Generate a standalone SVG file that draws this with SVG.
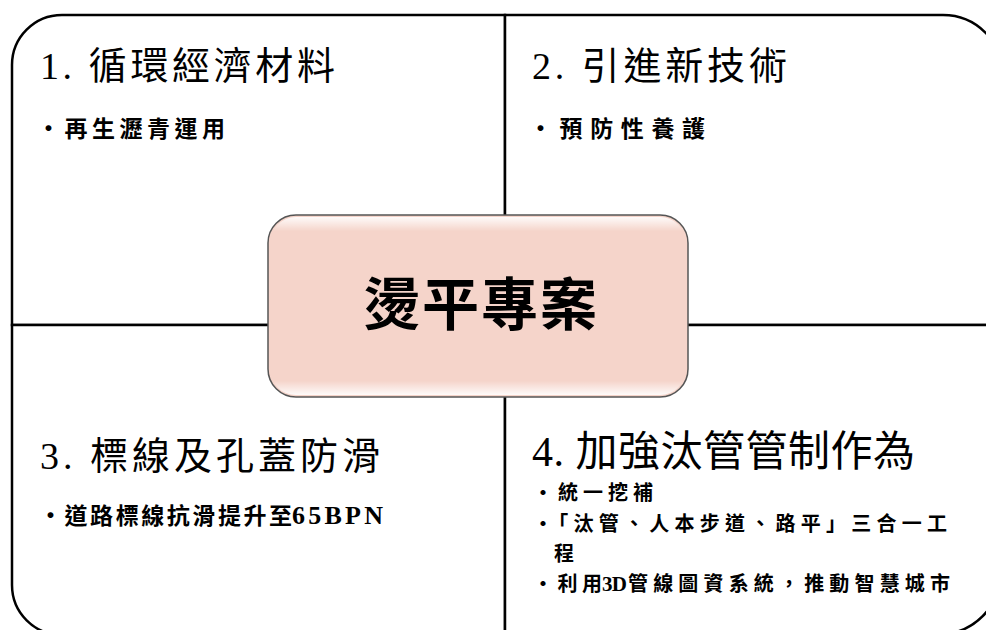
<svg xmlns="http://www.w3.org/2000/svg" width="986" height="630" viewBox="0 0 986 630">
<style>
.quad{fill:#fff;stroke:#000;stroke-width:2.5}
.hd{font-family:"Liberation Serif","Noto Sans CJK TC",serif;font-size:38px;fill:#000}
.bl{font-family:"Noto Sans CJK TC",sans-serif;font-size:23px;font-weight:bold;fill:#000}
.b4{font-size:20px}
.lat{font-family:"Liberation Serif",serif;font-size:26px;font-weight:bold;fill:#000}
.ttl{font-family:"Noto Sans CJK TC",sans-serif;font-size:57px;font-weight:bold;fill:#000}
</style>
<defs>
<linearGradient id="gloss" x1="0" y1="0" x2="0" y2="1">
<stop offset="0" stop-color="#fff" stop-opacity="0.9"/>
<stop offset="0.08" stop-color="#fff" stop-opacity="0"/>
<stop offset="0.92" stop-color="#fff" stop-opacity="0"/>
<stop offset="1" stop-color="#fff" stop-opacity="0.9"/>
</linearGradient>
</defs>
<rect width="986" height="630" fill="#fff"/>
<g id="q1">
<path class="quad" d="M12,325 V65 A50,50 0 0 1 62,15 H505 V325 Z"/>
<text class="hd" x="40" y="79" textLength="295">1. 循環經濟材料</text>
<text class="bl" x="37" y="137" textLength="188">・再生瀝青運用</text>
</g>
<g id="q2">
<path class="quad" d="M505,15 H943 A60,60 0 0 1 1003,75 V325 H505 Z"/>
<text class="hd" x="532" y="79" textLength="255">2. 引進新技術</text>
<text class="bl" x="529" y="137" textLength="176">・預防性養護</text>
</g>
<g id="q3">
<path class="quad" d="M12,325 H505 V635 H62 A50,50 0 0 1 12,585 Z"/>
<text class="hd" x="40" y="469" textLength="340">3. 標線及孔蓋防滑</text>
<text class="bl" x="39" y="524" textLength="253">・道路標線抗滑提升至</text>
<text class="lat" x="292" y="524" textLength="91">65BPN</text>
</g>
<g id="q4">
<path class="quad" d="M505,325 H1000 V574 A60,60 0 0 1 940,634 H505 Z"/>
<text class="hd" x="532" y="466" style="font-size:42px" textLength="383">4. 加強汰管管制作為</text>
<text class="bl b4" x="533" y="500" textLength="120">・統一挖補</text>
<text class="bl b4" x="533" y="531" textLength="414">・「汰管、人本步道、路平」三合一工</text>
<text class="bl b4" x="554" y="561">程</text>
<text class="bl b4" x="533" y="591" textLength="69">・利用</text>
<text class="lat" x="602" y="591" style="font-size:21px" textLength="25">3D</text>
<text class="bl b4" x="628" y="591" textLength="322">管線圖資系統，推動智慧城市</text>
</g>
<g id="center">
<rect x="268" y="215" width="420" height="182" rx="28" fill="#F5D4CA" stroke="#555" stroke-width="1.5"/>
<rect x="270" y="217" width="416" height="178" rx="26" fill="url(#gloss)"/>
<text class="ttl" x="363" y="325" textLength="234">燙平專案</text>
</g>
</svg>
